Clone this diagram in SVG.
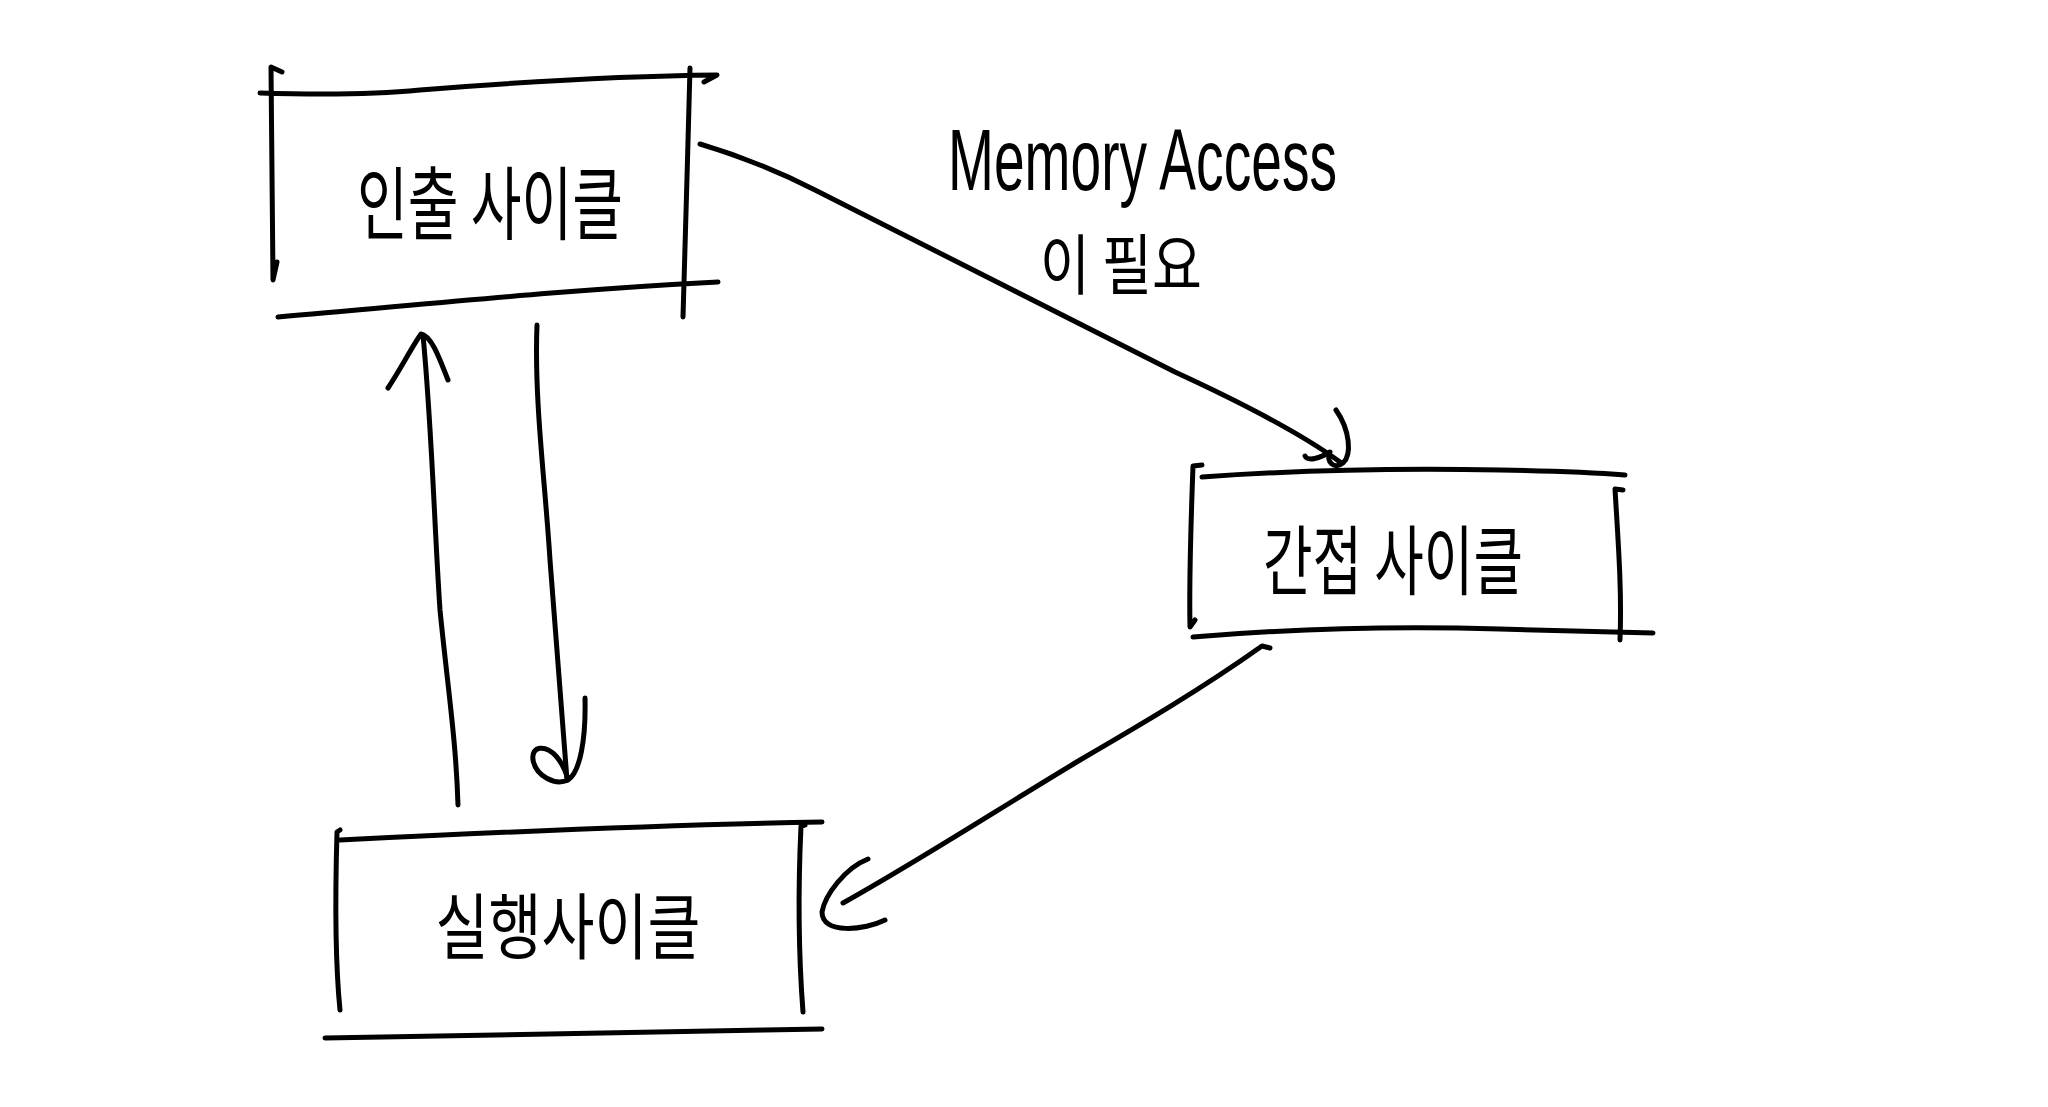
<svg xmlns="http://www.w3.org/2000/svg" width="2048" height="1107" viewBox="0 0 2048 1107">
<style>
.s{fill:none;stroke:#000;stroke-width:5;stroke-linecap:round;stroke-linejoin:round}
.k{font-family:"Noto Sans CJK KR","Noto Sans",sans-serif;fill:#000;text-anchor:middle;dominant-baseline:central;font-weight:400}
.e{font-family:"Liberation Sans","DejaVu Sans",sans-serif;fill:#000;font-weight:400}
</style>
<rect width="2048" height="1107" fill="#fff"/>
<g id="fetch">
<path class="s" d="M260,93 C320,95 380,94 420,90 C520,82 620,76 717,75 L704,82"/>
<path class="s" d="M282,72 L271,67 C272,140 273,210 273,280 L277,262"/>
<path class="s" d="M690,68 C688,150 685,240 683,317"/>
<path class="s" d="M278,317 C420,305 560,290 718,282"/>
<text class="k" x="490" y="198" font-size="80" textLength="266" lengthAdjust="spacingAndGlyphs">인출 사이클</text>
</g>
<g id="indirect">
<path class="s" d="M1202,477 C1300,470 1400,468 1500,470 C1560,471 1600,473 1625,475"/>
<path class="s" d="M1202,465 L1193,466 C1191,520 1189,580 1190,627 L1195,620"/>
<path class="s" d="M1623,490 L1615,489 C1618,540 1622,590 1620,640"/>
<path class="s" d="M1193,637 C1300,628 1400,626 1500,629 C1560,631 1610,632 1653,633"/>
<text class="k" x="1393" y="556" font-size="76" textLength="260" lengthAdjust="spacingAndGlyphs">간접 사이클</text>
</g>
<g id="execute">
<path class="s" d="M340,840 C500,832 660,825 822,822"/>
<path class="s" d="M340,830 L337,832 C335,900 335,960 340,1010"/>
<path class="s" d="M805,825 L801,826 C798,890 799,960 803,1012"/>
<path class="s" d="M325,1038 C500,1034 660,1032 822,1029"/>
<text class="k" x="568" y="921" font-size="72" textLength="265" lengthAdjust="spacingAndGlyphs">실행사이클</text>
</g>
<g id="label">
<text class="e" x="948" y="190" font-size="88" textLength="389" lengthAdjust="spacingAndGlyphs">Memory Access</text>
<text class="k" x="1121" y="260" font-size="66" textLength="162" lengthAdjust="spacingAndGlyphs">이 필요</text>
</g>
<g id="connectors">
<path class="s" d="M700,144 Q760,162 815,190 L1175,372 Q1290,425 1340,462"/>
<path class="s" d="M1336,410 C1350,430 1352,455 1343,463 C1335,470 1325,462 1330,452 C1320,458 1308,462 1305,456"/>
<path class="s" d="M1270,648 L1262,646 C1200,690 1140,725 1080,760 C1000,808 920,860 843,903"/>
<path class="s" d="M868,859 C845,868 825,895 822,912 C822,935 865,930 885,920"/>
<path class="s" d="M458,805 C456,740 448,690 440,610 C434,520 432,430 423,335"/>
<path class="s" d="M388,388 C400,370 413,345 421,334 C432,336 440,360 448,380"/>
<path class="s" d="M537,325 C534,400 545,480 550,560 C556,640 562,710 567,780"/>
<path class="s" d="M585,698 C586,740 580,772 568,780 C555,786 536,776 533,760 C531,745 546,745 556,756 C562,763 566,772 568,780"/>
</g>
</svg>
